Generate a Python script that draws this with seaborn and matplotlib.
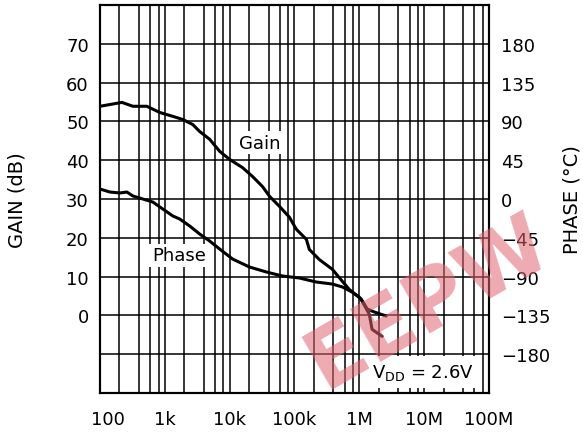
import numpy as np
import pandas as pd
import matplotlib
matplotlib.use('Agg')
import matplotlib.pyplot as plt
import matplotlib.transforms as mtransforms
import seaborn as sns
from matplotlib.ticker import LogLocator, NullFormatter

# ------------------------------------------------------------
# data (frequency in Hz)
# ------------------------------------------------------------
gain_freq = [100, 218, 322, 528, 838, 1330, 1890, 2700, 3450,
             4920, 7020, 10000, 15800, 22600, 32200, 41300, 58800, 83800,
             107000, 153000, 170000, 242000, 384000, 548000, 702000,
             1.0e6, 1.07e6, 1.43e6, 1.58e6, 2.26e6]
gain_db = [53.9, 54.9, 53.9, 53.9, 52.3, 51.3, 50.5, 49.2, 47.4,
           45.4, 42.3, 40.2, 38.1, 35.8, 33.2, 30.7, 28.1, 25.3,
           22.2, 19.6, 17.0, 14.4, 11.9, 8.8, 6.7,
           4.6, 4.1, 0.3, -3.6, -5.4]

phase_freq = [100, 142, 203, 260, 322, 459, 654, 931, 1330, 1700,
              2420, 3450, 4920, 7020, 11100, 20300, 37100, 65400, 119000, 218000,
              384000, 548000, 780000, 1.0e6, 1.07e6, 1.33e6, 1.70e6, 2.60e6]
phase_deg = [11.6, 8.1, 7.0, 8.1, 3.5, 0.0, -3.5, -11.6, -19.7, -23.2,
             -31.3, -40.6, -48.7, -58.0, -69.6, -78.9, -84.7, -89.3, -91.6, -96.3,
             -98.6, -102.0, -108.0, -113.7, -116.0, -127.6, -131.0, -135.7]

x_ticks = [1e2, 1e3, 1e4, 1e5, 1e6, 1e7, 1e8]
x_labels = ['100', '1k', '10k', '100k', '1M', '10M', '100M']
gain_ticks = list(range(-10, 80, 10))
phase_ticks = list(range(-180, 225, 45))

# ------------------------------------------------------------
# style
# ------------------------------------------------------------
sns.set_theme(style='white')
plt.rcParams['font.family'] = ['DejaVu Sans']
plt.rcParams['text.color'] = 'black'
plt.rcParams['axes.labelcolor'] = 'black'
plt.rcParams['xtick.color'] = 'black'
plt.rcParams['ytick.color'] = 'black'

fig = plt.figure(figsize=(5.83, 4.39), dpi=100)
ax = fig.add_axes([0.1715, 0.1025, 0.667, 0.8838])

gain_df = pd.DataFrame({'freq': gain_freq, 'gain': gain_db})
phase_df = pd.DataFrame({'freq': phase_freq, 'phase': phase_deg})

sns.lineplot(data=gain_df, x='freq', y='gain', ax=ax, color='black', lw=2.2)
ax.set_xscale('log')
ax.set_xlim(1e2, 1e8)
ax.set_ylim(-20, 80)

ax.set_xticks(x_ticks)
ax.set_xticklabels(x_labels)
ax.xaxis.set_minor_locator(LogLocator(base=10, subs=[2, 4, 6, 8]))
ax.xaxis.set_minor_formatter(NullFormatter())
ax.set_yticks(gain_ticks)
ax.set_yticklabels([''] + [str(v) for v in gain_ticks[1:]])

ax.grid(which='both', axis='both', color='black', lw=1.1)
ax.tick_params(which='both', length=0, labelsize=13)
ax.tick_params(axis='x', pad=12)
ax.tick_params(axis='y', pad=8)
ax.set_xlabel('')
ax.set_ylabel('GAIN (dB)', fontsize=14)
ax.yaxis.set_label_coords(-0.19, 0.5)

# nudge the first x label to the right like the original
first = ax.get_xticklabels()[0]
first.set_transform(first.get_transform() +
                    mtransforms.ScaledTranslation(0.08, 0, fig.dpi_scale_trans))

# phase on the right axis
ax2 = ax.twinx()
sns.lineplot(data=phase_df, x='freq', y='phase', ax=ax2, color='black', lw=2.2)
ax2.set_ylim(-225, 225)
ax2.set_yticks(phase_ticks)
ax2.set_yticklabels([str(v).replace('-', '\u2212') for v in phase_ticks])
ax2.grid(False)
ax2.tick_params(length=0, labelsize=13, pad=9)
ax2.set_ylabel('PHASE (\u00b0C)', fontsize=14, rotation=90)
ax2.yaxis.set_label_coords(1.19, 0.5)

for a in (ax, ax2):
    for s in a.spines.values():
        s.set_color('black')
        s.set_linewidth(1.5)

# curve labels
box = dict(fc='white', ec='none', pad=2)
ax.text(29000, 44.5, 'Gain', fontsize=13, ha='center', va='center', bbox=box, zorder=5)
ax2.text(1650, (15.5 - 30) * 4.5, 'Phase', fontsize=13, ha='center', va='center', bbox=box, zorder=5)
ax2.text(0.699, 0.054, r'V$_{\mathregular{DD}}$ = 2.6V', transform=ax.transAxes,
         fontsize=13, ha='left', va='center', bbox=dict(fc='white', ec='none', pad=4), zorder=5)

# watermark (kept inside the figure)
fig.text(0.735, 0.31, 'EEPW', rotation=30, fontsize=60, fontweight='bold',
         color='#e06470', alpha=0.55, ha='center', va='center', zorder=10)

fig.savefig('out.png', dpi=100)
